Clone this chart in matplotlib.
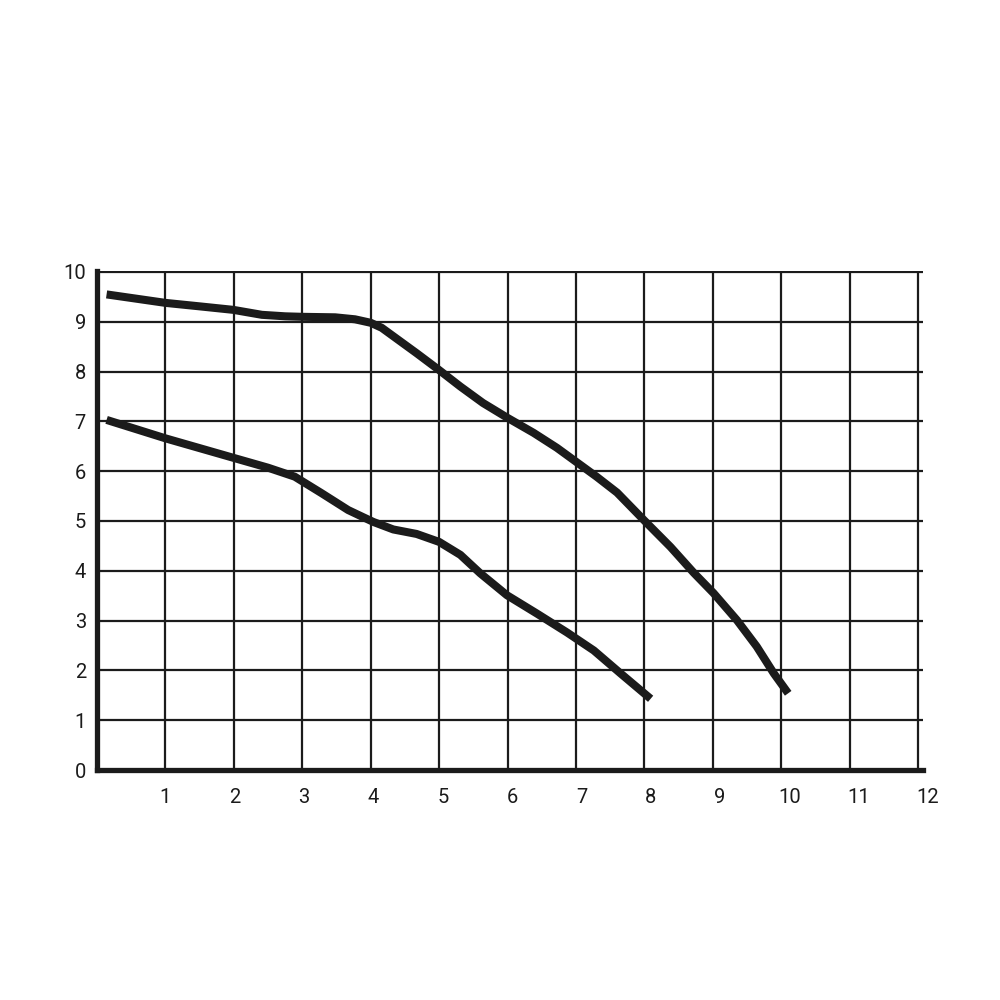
import numpy as np
import matplotlib.pyplot as plt
import matplotlib.transforms as mtransforms

plt.rcParams['font.family'] = ['Roboto', 'DejaVu Sans']

# upper curve
upper_x = [0.14, 1.0, 1.5, 1.99, 2.41, 2.75, 3.0, 3.48, 3.77, 4.0, 4.16, 4.33,
           4.67, 5.0, 5.31, 5.64, 6.0, 6.38, 6.72, 7.01, 7.3, 7.6, 7.99,
           8.38, 8.72, 9.01, 9.35, 9.64, 9.89, 10.1]
upper_y = [9.55, 9.38, 9.31, 9.24, 9.14, 9.11, 9.10, 9.09, 9.05, 8.98, 8.88, 8.71,
           8.37, 8.03, 7.70, 7.37, 7.07, 6.77, 6.47, 6.18, 5.89, 5.57, 5.02,
           4.48, 3.96, 3.55, 3.01, 2.48, 1.94, 1.54]

# lower curve
lower_x = [0.14, 1.0, 1.99, 2.5, 2.89, 3.28, 3.67, 3.9, 4.04, 4.33, 4.67, 5.0,
           5.31, 5.6, 5.99, 6.43, 6.87, 7.26, 7.65, 8.09]
lower_y = [7.03, 6.66, 6.27, 6.07, 5.89, 5.56, 5.22, 5.07, 4.98, 4.83, 4.74, 4.58,
           4.32, 3.95, 3.51, 3.14, 2.76, 2.40, 1.94, 1.43]

x_ticks = list(range(1, 13))
y_ticks = list(range(0, 11))

fig = plt.figure(figsize=(10, 10), dpi=100)
ax = fig.add_axes([0.097, 0.230, 0.826, 0.499])

ax.set_xlim(0, 12.07)
ax.set_ylim(0, 10.02)

line_col = '#1b1b1b'
for v in x_ticks:
    ax.plot([v, v], [0, 10.02], color=line_col, lw=1.6, zorder=1, solid_capstyle='butt')
for v in y_ticks[1:]:
    ax.plot([0, 12.07], [v, v], color=line_col, lw=1.6, zorder=1, solid_capstyle='butt')

ax.plot(upper_x, upper_y, color=line_col, lw=5.8, zorder=3,
        solid_joinstyle='round', solid_capstyle='butt')
ax.plot(lower_x, lower_y, color=line_col, lw=5.8, zorder=3,
        solid_joinstyle='round', solid_capstyle='butt')

for side in ['top', 'right']:
    ax.spines[side].set_visible(False)
ax.spines['left'].set_linewidth(3.8)
ax.spines['bottom'].set_linewidth(3.8)
ax.spines['left'].set_color(line_col)
ax.spines['bottom'].set_color(line_col)

ax.set_xticks(x_ticks)
ax.set_xticklabels([str(v) for v in x_ticks])
ax.set_yticks(y_ticks)
ax.set_yticklabels([str(v) for v in y_ticks])
ax.tick_params(length=0, labelsize=14.5, colors='#1b1b1b')
ax.tick_params(axis='x', pad=13)
ax.tick_params(axis='y', pad=8)

# x labels in the original drift slightly right of their grid lines
for i, lab in enumerate(ax.get_xticklabels()):
    offset = mtransforms.ScaledTranslation(0.9 * i / 100, 0, fig.dpi_scale_trans)
    lab.set_transform(lab.get_transform() + offset)

fig.savefig('out.png', dpi=100, facecolor='white')
